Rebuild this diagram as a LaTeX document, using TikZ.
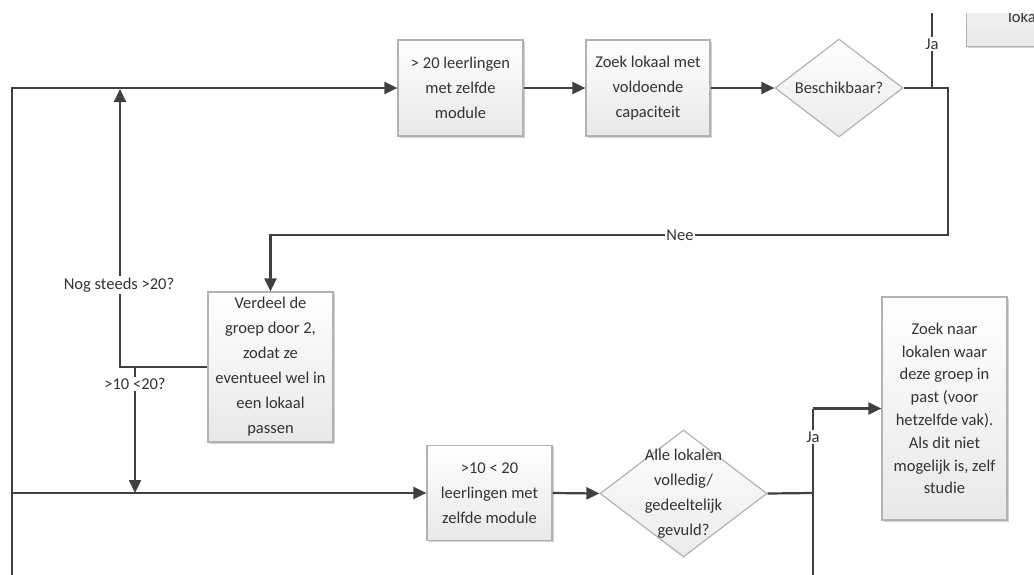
\documentclass[tikz,border=0pt]{standalone}
\usepackage{fontspec}
\setmainfont{Carlito}
\usetikzlibrary{arrows.meta,shapes.geometric,shadows}
\begin{document}
\begin{tikzpicture}[x=1pt,y=-1pt,
  every node/.style={font=\fontsize{16.5}{25}\selectfont, text=black!80},
  procbox/.style={draw=black!30, line width=1.2pt, top color=white, bottom color=black!9,
    align=center, inner sep=2pt,
    drop shadow={shadow xshift=1.5pt, shadow yshift=-1.8pt, fill=black!30, opacity=0.6}},
  decision/.style={shape=diamond, draw=black!30, line width=1.2pt, top color=white, bottom color=black!8, inner sep=0pt},
  conn/.style={draw=black!75, line width=2.2pt},
  arr/.style={-{Triangle[length=13pt,width=12pt]}},
  lbl/.style={fill=white, inner sep=1.5pt}]
\useasboundingbox (0,0) rectangle (1034,574);
\clip (0,13) rectangle (1034,574);

% fixed points of the connectors
\coordinate (leftbot) at (12,585);
\coordinate (leftmid) at (12,493);
\coordinate (nee1) at (948,235);
\coordinate (jaTopStart) at (932,88);
\coordinate (jaTopEnd) at (932,0);
\coordinate (upEnd) at (120,89);
\coordinate (splitTop) at (135,367);
\coordinate (splitBot) at (135,493);
\coordinate (jaBot) at (813,493);
\coordinate (jaBotEnd) at (813,585);
\coordinate (jaBotTop) at (813,408.5);

% process boxes
\node[procbox, minimum width=125, minimum height=96] (b1) at (460.5,88) {> 20 leerlingen\\met zelfde\\module};
\node[procbox, minimum width=124, minimum height=96] (b2) at (648,88) {Zoek lokaal met\\voldoende\\capaciteit};
\node[procbox, minimum width=125, minimum height=150] (v) at (270.5,367) {Verdeel de\\groep door 2,\\zodat ze\\eventueel wel in\\een lokaal\\passen};
\node[procbox, minimum width=125, minimum height=95] (b3) at (489.5,493) {>10 < 20\\leerlingen met\\zelfde module};
\node[procbox, minimum width=125, minimum height=223, font=\fontsize{16.5}{22.8}\selectfont] (b4) at (944.5,408.5) {Zoek naar\\lokalen waar\\deze groep in\\past (voor\\hetzelfde vak).\\Als dit niet\\mogelijk is, zelf\\studie};
\node[procbox, anchor=south west, minimum width=150, minimum height=90] (tr) at (966,47) {};
\node[anchor=base west, inner sep=0pt] (trtext) at (1008,22) {lokaal};

% decisions
\node[decision, minimum width=128, minimum height=98] (d1) at (839,88) {};
\node at (d1.center) {Beschikbaar?};
\node[decision, minimum width=167, minimum height=127] (d2) at (683.5,493.5) {};
\node[align=center] (d2text) at (d2.center) {Alle lokalen\\volledig/\\gedeeltelijk\\gevuld?};

% connectors
\draw[conn, arr] (leftbot) |- (b1.west);
\draw[conn, arr] (b1.east) -- (b2.west);
\draw[conn, arr] (b2.east) -- (d1.west);
\draw[conn, arr] (d1.east) -| (nee1) -| (v.north);
\node[lbl] (neelbl) at (680,235) {Nee};
\draw[conn] (jaTopStart) -- (jaTopEnd);
\node[lbl] (jalbl1) at (932,44) {Ja};
\draw[conn, arr] (v.west) -| (upEnd);
\node[lbl] (noglbl) at (119,285) {Nog steeds >20?};
\draw[conn, arr] (splitTop) -- (splitBot);
\node[lbl] (splitlbl) at (135,384) {>10 <20?};
\draw[conn, arr] (leftmid) -- (b3.west);
\draw[conn, arr] (b3.east) -- (d2.west);
\draw[conn] (d2.east) -- (jaBot);
\draw[conn] (jaBotEnd) -- (jaBotTop);
\draw[conn, arr] (jaBotTop) -- (b4.west);
\node[lbl] (jalbl2) at (813,437) {Ja};
\end{tikzpicture}
\end{document}
